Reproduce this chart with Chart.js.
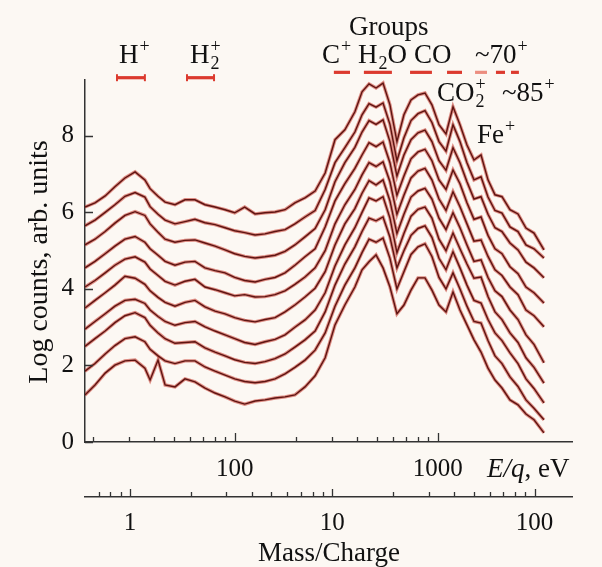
<!doctype html>
<html>
<head>
<meta charset="utf-8">
<script src="https://cdn.jsdelivr.net/npm/chart.js@4.4.0/dist/chart.umd.min.js"></script>
<style>
  body { margin: 0; background: #fcf8f3; }
  #wrap { width: 602px; height: 567px; }
</style>
</head>
<body>
<div id="wrap"><canvas id="c1" width="602" height="567"></canvas></div>
<script>
// E/q grid (eV) shared by all spectra
const energy = [18.3, 20.5, 23.0, 25.7, 28.8, 32.3, 36.1, 38.3, 41.9, 45.4, 50.8, 56.9, 63.7, 71.4, 80.0, 89.6,
  100, 112, 126, 141, 158, 177, 198, 222, 249, 279, 312, 349, 391, 424, 459, 497, 538, 582, 630, 682, 739,
  800, 866, 937, 1015, 1099, 1190, 1288, 1394, 1510, 1635, 1770, 1916, 2074, 2271, 2487, 2723, 2982, 3339];

// log counts, top spectrum first
const curve1 = [6.14, 6.25, 6.43, 6.67, 6.90, 7.06, 6.85, 6.62, 6.42, 6.27, 6.20, 6.33, 6.33, 6.20, 6.14, 6.07,
  5.99, 6.14, 5.96, 5.99, 6.01, 6.07, 6.25, 6.38, 6.56, 7.03, 7.90, 8.16, 8.63, 9.15, 9.36, 9.25, 9.38, 8.81, 7.85, 8.55, 8.94,
  9.07, 9.12, 8.81, 8.29, 8.05, 8.76, 8.29, 7.76, 7.37, 7.50, 6.85, 6.46, 6.41, 6.07, 5.96, 5.59, 5.46, 5.02];
const curve2 = [5.65, 5.80, 6.00, 6.20, 6.42, 6.52, 6.40, 6.15, 5.95, 5.80, 5.70, 5.76, 5.82, 5.73, 5.68, 5.60,
  5.52, 5.47, 5.41, 5.44, 5.50, 5.55, 5.70, 5.88, 6.05, 6.60, 7.30, 7.69, 8.10, 8.55, 8.84, 8.75, 8.86, 8.30, 7.35, 7.95, 8.40,
  8.58, 8.66, 8.35, 7.85, 7.60, 8.29, 7.85, 7.30, 6.85, 6.93, 6.40, 6.05, 5.98, 5.62, 5.50, 5.15, 5.05, 4.81];
const curve3 = [5.15, 5.30, 5.50, 5.72, 5.92, 6.02, 5.92, 5.70, 5.48, 5.30, 5.22, 5.27, 5.28, 5.20, 5.12, 5.02,
  4.92, 4.85, 4.81, 4.84, 4.88, 4.98, 5.15, 5.36, 5.58, 6.07, 6.80, 7.30, 7.70, 8.10, 8.40, 8.30, 8.42, 7.85, 6.95, 7.50, 7.90,
  8.08, 8.15, 7.85, 7.35, 7.10, 7.69, 7.30, 6.80, 6.35, 6.41, 5.95, 5.60, 5.50, 5.20, 5.02, 4.70, 4.55, 4.29];
const curve4 = [4.55, 4.72, 4.92, 5.12, 5.30, 5.37, 5.22, 5.05, 4.88, 4.72, 4.62, 4.70, 4.72, 4.55, 4.48, 4.42,
  4.30, 4.22, 4.18, 4.25, 4.30, 4.42, 4.62, 4.84, 5.05, 5.62, 6.30, 6.75, 7.15, 7.50, 7.82, 7.72, 7.84, 7.30, 6.45, 6.95, 7.40,
  7.58, 7.65, 7.35, 6.85, 6.60, 7.11, 6.75, 6.25, 5.82, 5.88, 5.40, 5.05, 4.92, 4.58, 4.40, 4.05, 3.90, 3.63];
const curve5 = [4.05, 4.22, 4.42, 4.62, 4.78, 4.84, 4.70, 4.52, 4.35, 4.20, 4.10, 4.20, 4.25, 4.05, 3.98, 3.90,
  3.82, 3.85, 3.79, 3.80, 3.85, 3.95, 4.12, 4.31, 4.55, 5.00, 5.70, 6.20, 6.60, 6.98, 7.30, 7.20, 7.32, 6.80, 5.95, 6.45, 6.90,
  7.08, 7.15, 6.85, 6.35, 6.05, 6.54, 6.15, 5.70, 5.25, 5.28, 4.85, 4.50, 4.35, 4.05, 3.85, 3.45, 3.30, 3.01];
const curve6 = [3.50, 3.70, 3.90, 4.10, 4.33, 4.28, 4.12, 3.95, 3.78, 3.65, 3.55, 3.65, 3.70, 3.53, 3.42, 3.35,
  3.25, 3.18, 3.14, 3.20, 3.25, 3.40, 3.58, 3.79, 4.02, 4.45, 5.15, 5.70, 6.10, 6.50, 6.83, 6.72, 6.85, 6.30, 5.45, 5.95, 6.40,
  6.56, 6.63, 6.35, 5.85, 5.55, 5.99, 5.60, 5.15, 4.72, 4.76, 4.30, 3.95, 3.80, 3.45, 3.20, 2.80, 2.55, 2.07];
const curve7 = [2.95, 3.15, 3.35, 3.55, 3.70, 3.73, 3.62, 3.45, 3.28, 3.15, 3.05, 3.12, 3.15, 3.01, 2.90, 2.80,
  2.70, 2.60, 2.55, 2.62, 2.68, 2.80, 3.00, 3.19, 3.45, 3.90, 4.60, 5.15, 5.60, 6.00, 6.38, 6.30, 6.41, 5.85, 4.95, 5.45, 5.90,
  6.08, 6.14, 5.85, 5.30, 5.00, 5.46, 5.05, 4.65, 4.28, 4.31, 3.80, 3.40, 3.20, 2.85, 2.60, 2.20, 1.95, 1.54];
const curve8 = [2.50, 2.70, 2.90, 3.12, 3.30, 3.38, 3.25, 3.05, 2.85, 2.70, 2.58, 2.60, 2.62, 2.46, 2.35, 2.25,
  2.15, 2.08, 2.05, 2.10, 2.18, 2.30, 2.48, 2.67, 2.90, 3.40, 4.10, 4.65, 5.10, 5.50, 5.85, 5.78, 5.88, 5.35, 4.55, 5.00, 5.40,
  5.58, 5.65, 5.35, 4.80, 4.50, 4.97, 4.55, 4.10, 3.70, 3.63, 3.20, 2.85, 2.65, 2.33, 2.05, 1.65, 1.40, 1.02];
const curve9 = [1.85, 2.05, 2.30, 2.52, 2.70, 2.75, 2.62, 2.42, 2.25, 2.12, 2.05, 2.12, 2.12, 1.96, 1.85, 1.75,
  1.65, 1.58, 1.55, 1.58, 1.65, 1.78, 1.95, 2.14, 2.40, 2.85, 3.55, 4.10, 4.55, 4.95, 5.30, 5.22, 5.33, 4.80, 4.00, 4.45, 4.90,
  5.10, 5.18, 4.85, 4.30, 4.00, 4.42, 4.00, 3.55, 3.15, 3.11, 2.65, 2.25, 2.05, 1.70, 1.45, 1.10, 0.88, 0.58];
const curve10 = [1.23, 1.49, 1.80, 2.01, 2.12, 2.14, 1.93, 1.62, 2.14, 1.49, 1.44, 1.65, 1.57, 1.41, 1.28, 1.18,
  1.07, 0.99, 1.07, 1.10, 1.15, 1.18, 1.23, 1.44, 1.73, 2.20, 3.06, 3.58, 4.05, 4.50, 4.71, 4.89, 4.55, 4.05, 3.35, 3.58, 3.97,
  4.29, 4.29, 3.97, 3.58, 3.40, 3.92, 3.45, 3.06, 2.67, 2.35, 1.93, 1.62, 1.41, 1.10, 0.97, 0.73, 0.58, 0.24];
const curves = [curve1, curve2, curve3, curve4, curve5, curve6, curve7, curve8, curve9, curve10];

// ion group E/q ranges (eV) and their level on the count axis
const groupLo = [26.3, 58.2, 308, 433, 731, 1112, 1528, 1937, 2298];
const groupHi = [36.1, 79.1, 370, 595, 937, 1318, 1750, 2147, 2513];
const groupLevel = [9.52, 9.52, 9.66, 9.66, 9.66, 9.66, 9.66, 9.66, 9.66];

// axes
const yMin = 0, yMax = 9.46;
const yTicks = [0, 2, 4, 6, 8];
const eMin = 18.3, eMax = 4590;
const eMajor = [100, 1000];
const eMinor = [20, 30, 40, 50, 60, 70, 80, 90, 200, 300, 400, 500, 600, 700, 800, 900];
const eVperMass = 30;
const massMajor = [1, 10, 100];
const massMinor = [0.7, 0.8, 0.9, 2, 3, 4, 5, 6, 7, 8, 9, 20, 30, 40, 50, 60, 70, 80, 90];

const SERIF = '"Liberation Serif", "Times New Roman", serif';
const axisCol = '#333';

function richText(ctx, x, y, parts, size) {
  const small = Math.round(size * 0.68);
  let cx = x;
  for (const p of parts) {
    if (p[1] === 'n') {
      ctx.font = size + 'px ' + SERIF;
      ctx.fillText(p[0], cx, y);
      cx += ctx.measureText(p[0]).width;
    } else if (p[1] === 'sup') {
      ctx.font = small + 'px ' + SERIF;
      ctx.fillText(p[0], cx + 1, y - size * 0.42);
      cx += ctx.measureText(p[0]).width + 1;
    } else if (p[1] === 'both') {
      ctx.font = small + 'px ' + SERIF;
      ctx.fillText(p[0], cx + 1, y + size * 0.24);
      ctx.fillText(p[2], cx + 1, y - size * 0.42);
      cx += Math.max(ctx.measureText(p[0]).width, ctx.measureText(p[2]).width) + 1;
    } else if (p[1] === 'sub') {
      ctx.font = small + 'px ' + SERIF;
      ctx.fillText(p[0], cx + 1, y + size * 0.24);
      cx += ctx.measureText(p[0]).width + 1;
    }
  }
}

const decor = {
  id: 'decor',
  afterDraw(chart) {
    const ctx = chart.ctx;
    const xs = chart.scales.x, x2 = chart.scales.x2, ys = chart.scales.y;
    const ca = chart.chartArea;
    ctx.save();
    ctx.strokeStyle = axisCol;
    ctx.lineWidth = 1.3;
    ctx.beginPath();
    for (const v of yTicks) {
      const py = Math.round(ys.getPixelForValue(v)) + 0.5;
      ctx.moveTo(ca.left, py); ctx.lineTo(ca.left + 8, py);
    }
    for (const v of eMajor) {
      const px = Math.round(xs.getPixelForValue(v)) + 0.5;
      ctx.moveTo(px, ca.bottom); ctx.lineTo(px, ca.bottom - 9);
    }
    for (const v of eMinor) {
      const px = Math.round(xs.getPixelForValue(v)) + 0.5;
      ctx.moveTo(px, ca.bottom); ctx.lineTo(px, ca.bottom - 5);
    }
    const mb = x2.top;
    for (const v of massMajor) {
      const px = Math.round(x2.getPixelForValue(v)) + 0.5;
      ctx.moveTo(px, mb); ctx.lineTo(px, mb - 8);
    }
    for (const v of massMinor) {
      const px = Math.round(x2.getPixelForValue(v)) + 0.5;
      ctx.moveTo(px, mb); ctx.lineTo(px, mb - 5);
    }
    ctx.stroke();

    ctx.fillStyle = '#111';
    ctx.textBaseline = 'alphabetic';
    ctx.textAlign = 'left';
    const fs = 27;
    richText(ctx, 349, 35, [['Groups', 'n']], fs);
    richText(ctx, 119, 63, [['H', 'n'], ['+', 'sup']], fs);
    richText(ctx, 190, 63, [['H', 'n'], ['2', 'both', '+']], fs);
    richText(ctx, 322, 63, [['C', 'n'], ['+', 'sup']], fs);
    richText(ctx, 358, 63, [['H', 'n'], ['2', 'sub'], ['O', 'n']], fs);
    richText(ctx, 414, 63, [['CO', 'n']], fs);
    richText(ctx, 475, 63, [['~70', 'n'], ['+', 'sup']], fs);
    richText(ctx, 437, 101, [['CO', 'n'], ['2', 'both', '+']], fs);
    richText(ctx, 502, 101, [['~85', 'n'], ['+', 'sup']], fs);
    richText(ctx, 477, 143, [['Fe', 'n'], ['+', 'sup']], fs);

    // E/q, eV
    ctx.font = 'italic ' + fs + 'px ' + SERIF;
    ctx.fillText('E/q', 487, 477);
    const w = ctx.measureText('E/q').width;
    ctx.font = fs + 'px ' + SERIF;
    ctx.fillText(', eV', 487 + w, 477);

    ctx.textAlign = 'center';
    ctx.fillText('Mass/Charge', 329, 561);

    ctx.font = '28px ' + SERIF;
    ctx.translate(47, 262);
    ctx.rotate(-Math.PI / 2);
    ctx.fillText('Log counts, arb. units', 0, 0);
    ctx.restore();
  }
};

const datasets = [];
curves.forEach(c => {
  const pts = energy.map((e, i) => ({ x: e, y: c[i] }));
  datasets.push({ data: pts, borderColor: 'rgba(196,52,40,0.55)', borderWidth: 3.4, pointRadius: 0, tension: 0, order: 3 });
  datasets.push({ data: pts, borderColor: '#5e1411', borderWidth: 1.4, pointRadius: 0, tension: 0, order: 2 });
});
const barPts = [];
groupLo.forEach((lo, i) => {
  barPts.push({ x: lo, y: groupLevel[i] }, { x: groupHi[i], y: groupLevel[i] }, { x: groupHi[i] * 1.01, y: null });
});
const lightBar = 6;
datasets.push({
  data: barPts, clip: false, order: 1, borderWidth: 3.2, tension: 0,
  borderColor: '#dc3a2e',
  segment: { borderColor: s => Math.floor(s.p0DataIndex / 3) === lightBar ? '#ec8e80' : '#dc3a2e' },
  pointStyle: 'line', pointRotation: 90, pointRadius: 3.5, pointBorderWidth: 2,
  pointBorderColor: s => Math.floor(s.dataIndex / 3) === lightBar ? '#ec8e80' : '#dc3a2e'
});

new Chart(document.getElementById('c1'), {
  type: 'line',
  data: { datasets },
  options: {
    responsive: false,
    animation: false,
    devicePixelRatio: 1,
    layout: { padding: { top: 80, right: 30, left: 0, bottom: 0 } },
    plugins: { legend: { display: false }, tooltip: { enabled: false } },
    scales: {
      x: {
        type: 'logarithmic', position: 'bottom', min: eMin, max: eMax, weight: 0,
        grid: { display: false, drawTicks: false },
        border: { display: true, color: axisCol, width: 1.5 },
        ticks: { font: { family: SERIF, size: 25 }, color: '#111', padding: 12, maxRotation: 0, autoSkip: false,
          callback: v => String(v) },
        afterBuildTicks: s => { s.ticks = eMajor.map(v => ({ value: v })); },
        afterFit: s => { s.height = 55; }
      },
      x2: {
        type: 'logarithmic', position: 'bottom', min: eMin / eVperMass, max: eMax / eVperMass, weight: 1,
        grid: { display: false, drawTicks: false },
        border: { display: true, color: axisCol, width: 1.5 },
        ticks: { font: { family: SERIF, size: 25 }, color: '#111', padding: 11, maxRotation: 0, autoSkip: false,
          callback: v => String(v) },
        afterBuildTicks: s => { s.ticks = massMajor.map(v => ({ value: v })); },
        afterFit: s => { s.height = 70; }
      },
      y: {
        type: 'linear', min: yMin, max: yMax,
        grid: { display: false, drawTicks: false },
        border: { display: true, color: axisCol, width: 1.5 },
        ticks: { font: { family: SERIF, size: 25 }, color: '#111', padding: 11 },
        afterBuildTicks: s => { s.ticks = yTicks.map(v => ({ value: v })); },
        afterFit: s => { s.width = 85; }
      }
    }
  },
  plugins: [decor]
});
</script>
</body>
</html>
